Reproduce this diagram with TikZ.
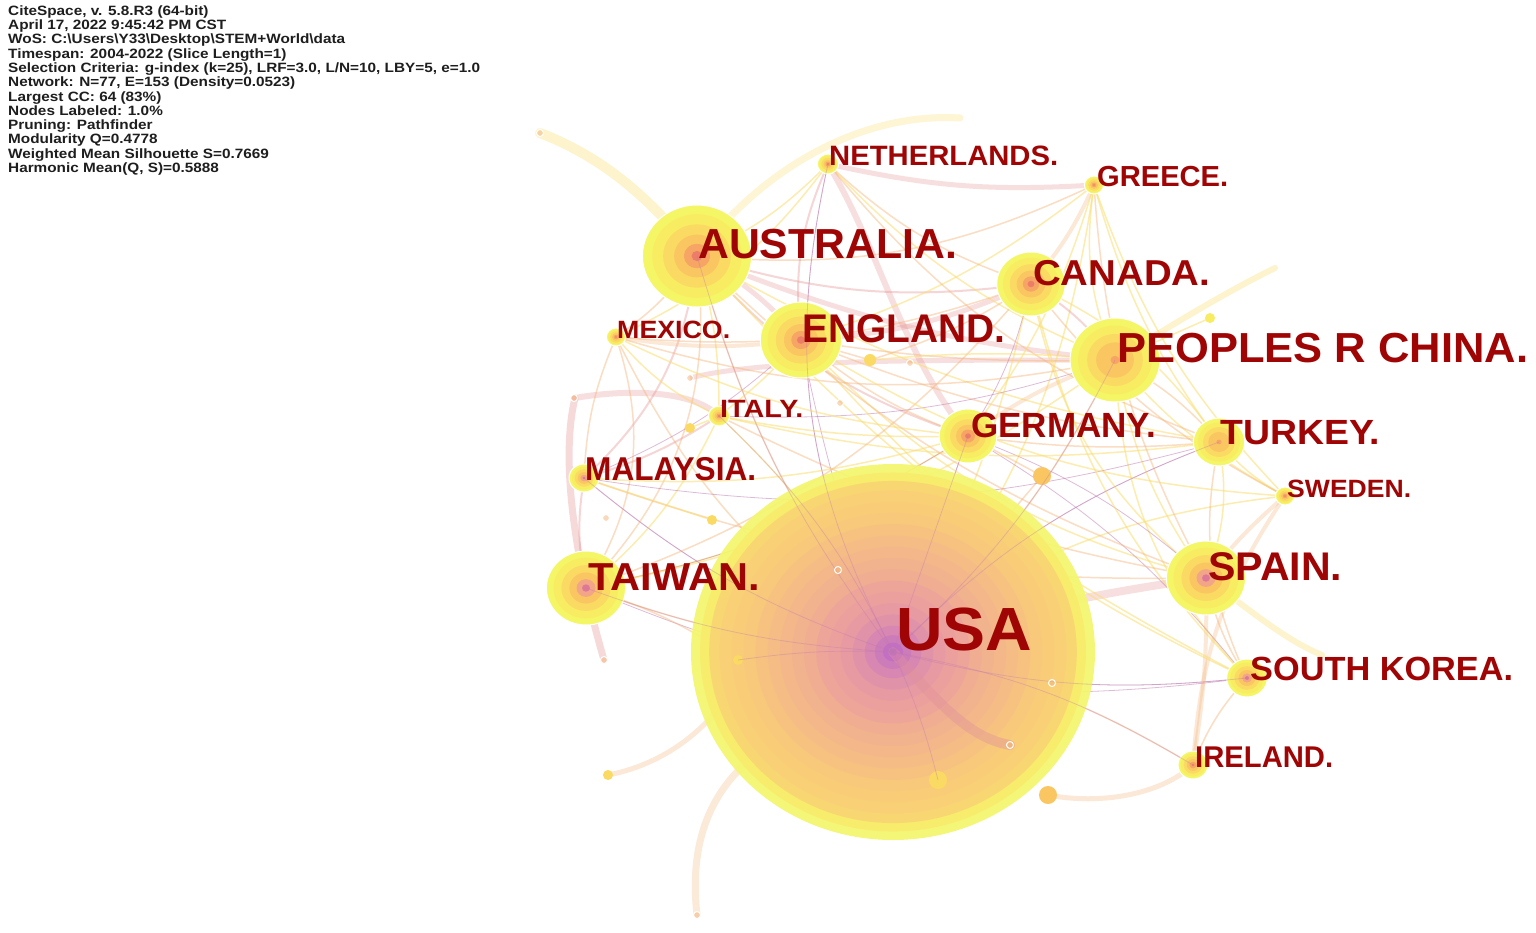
\documentclass[tikz,border=0pt]{standalone}
\usepackage{fontspec}
\setmainfont{Liberation Sans}
\definecolor{lab}{RGB}{160,5,5}
\definecolor{hdr}{RGB}{30,30,30}
\definecolor{ey}{RGB}{250,222,110}
\definecolor{eo}{RGB}{245,180,120}
\definecolor{ep}{RGB}{232,150,150}
\definecolor{em}{RGB}{190,120,175}
\definecolor{ny1}{RGB}{244,246,102}
\definecolor{ny2}{RGB}{248,236,98}
\definecolor{no1}{RGB}{250,218,98}
\definecolor{no2}{RGB}{250,198,98}
\definecolor{nr1}{RGB}{246,165,100}
\definecolor{nr2}{RGB}{236,125,105}
\definecolor{pr1}{RGB}{242,165,135}
\definecolor{pr2}{RGB}{222,120,150}
\definecolor{uy}{RGB}{244,246,110}
\definecolor{uy2}{RGB}{248,236,108}
\definecolor{uo}{RGB}{250,205,120}
\definecolor{up}{RGB}{236,160,158}
\definecolor{uv}{RGB}{180,95,210}
\tikzset{
  t1/.style={draw=ey, line width=1.5, opacity=.55},
  t2/.style={draw=eo, line width=1.5, opacity=.45},
  t3/.style={draw=ep, line width=2, opacity=.4},
  t4/.style={draw=em, line width=.8, opacity=.5},
  tk/.style={draw=eo, line width=4, opacity=.3},
  tp/.style={draw=ep, line width=5, opacity=.3},
  lblnode/.style={anchor=base west, inner sep=0, text=lab},
}
% name, x, y, r, inner colour 1, inner colour 2
\newcommand\cnd[6]{%
  \coordinate (#1) at (#2,#3);
  \fill[ny1] (#1) ellipse [x radius={1.07*#4}, y radius={#4}];
  \draw[white, line width=1] (#1) ellipse [x radius={1.07*#4}, y radius={#4}];
  \fill[ny2] (#1) ellipse [x radius={1.07*#4*.82}, y radius={#4*.82}];
  \fill[no1] (#1) ellipse [x radius={1.07*#4*.62}, y radius={#4*.62}];
  \fill[no2] (#1) ellipse [x radius={1.07*#4*.42}, y radius={#4*.42}];
  \fill[#5] (#1) ellipse [x radius={1.07*#4*.24}, y radius={#4*.24}];
  \fill[#6] (#1) ellipse [x radius={1.07*#4*.10}, y radius={#4*.10}];
}
\newcommand\dotnd[5]{%
  \coordinate (#1) at (#2,#3);
  \fill[#5] (#1) circle [radius=#4];
}
\newcommand\wdot[3]{%
  \coordinate (#1) at (#2,#3);
  \filldraw[fill=eo, fill opacity=.5, draw=white, line width=1] (#1) circle [radius=3.5];
}
\newcommand\lbl[6]{%
  \node[lblnode, font=\bfseries\fontsize{#4}{#4}\selectfont] (#1) at (#2,#3) {\resizebox{#5pt}{\height}{#6}};
}
\begin{document}
\begin{tikzpicture}[x=1pt, y=-1pt]
\useasboundingbox (0,0) rectangle (1536,932);
\fill[white] (0,0) rectangle (1536,932);

% ---------- named positions ----------
\coordinate (usa) at (893,652);
\coordinate (aus) at (697,256);
\coordinate (eng) at (801,340);
\coordinate (can) at (1031,284);
\coordinate (chn) at (1115,360);
\coordinate (ger) at (968,436);
\coordinate (tur) at (1219,442);
\coordinate (twn) at (586,588);
\coordinate (spa) at (1206,578);
\coordinate (kor) at (1247,678);
\coordinate (ire) at (1193,765);
\coordinate (swe) at (1285,496);
\coordinate (gre) at (1094,185);
\coordinate (net) at (828,164);
\coordinate (mex) at (616,337);
\coordinate (ita) at (719,416);
\coordinate (mal) at (584,478);
\coordinate (c540) at (540,133);
\coordinate (c960) at (960,118);
\coordinate (c697) at (697,915);
\coordinate (c604) at (604,660);
\coordinate (c575) at (575,398);
\coordinate (c1010) at (1010,745);
\coordinate (c1275) at (1275,268);
\coordinate (c1320) at (1322,655);
\coordinate (c770) at (770,745);
\coordinate (c725) at (725,700);
\coordinate (c690) at (690,378);
\coordinate (d1) at (870,360);
\coordinate (d2) at (1042,476);
\coordinate (d3) at (938,780);
\coordinate (d4) at (1048,795);
\coordinate (d5) at (738,660);
\coordinate (d6) at (608,775);
\coordinate (d7) at (712,520);
\coordinate (d8) at (690,428);
\coordinate (d9) at (1210,318);

% ---------- background thick arcs ----------
\draw[ey, line width=10, opacity=.35, line cap=round] (c540) .. controls (610,160) and (655,205) .. (aus);
\draw[ey, line width=7, opacity=.3, line cap=round] (aus) .. controls (760,170) and (860,112) .. (c960);
\draw[eo, line width=7, opacity=.28, line cap=round] (c697) .. controls (688,835) and (715,780) .. (c770);
\draw[eo, line width=5, opacity=.3, line cap=round] (d6) .. controls (660,765) and (700,735) .. (c725);
\draw[ep, line width=7, opacity=.35, line cap=round] (c604) .. controls (575,560) and (560,460) .. (c575);
\draw[ep, line width=6, opacity=.3, line cap=round] (c575) .. controls (620,390) and (690,388) .. (ita);
\draw[ep, line width=5, opacity=.3] (c690) .. controls (760,360) and (900,360) .. (chn);
\draw[ey, line width=6, opacity=.35, line cap=round] (chn) .. controls (1180,320) and (1230,290) .. (c1275);
\draw[ey, line width=6, opacity=.35, line cap=round] (spa) .. controls (1250,610) and (1285,640) .. (c1320);
\draw[eo, line width=5, opacity=.3] (d4) .. controls (1100,805) and (1160,795) .. (ire);
\draw[ep, line width=8, opacity=.3] (usa) .. controls (1000,610) and (1120,590) .. (spa);
\draw[ep, line width=6, opacity=.3] (net) .. controls (880,250) and (900,350) .. (ger);

% ---------- thin connectors ----------
\foreach \a/\b/\bd/\s in {
  usa/aus/10/t2, usa/eng/5/t4, usa/can/-8/t1, usa/chn/-10/t2, usa/ger/0/t4, usa/tur/12/t4,
  usa/twn/8/t2, usa/kor/-10/t4, usa/ire/10/t2, usa/swe/15/t1, usa/gre/-15/t1,
  usa/net/20/t4, usa/mex/15/t2, usa/ita/-10/t1, usa/mal/10/t4, usa/d2/0/t2,
  aus/eng/10/tp, aus/can/-12/t3, aus/chn/-8/tp, aus/net/-10/t1, aus/gre/-15/t2, aus/mex/10/t2,
  aus/ita/8/t1, aus/mal/20/t3, aus/twn/25/t2, aus/ger/-15/t3, aus/tur/-10/t1,
  eng/can/-10/tp, eng/chn/-5/t2, eng/net/15/t3, eng/gre/-10/t1, eng/ger/-10/t2, eng/ita/5/t1,
  eng/mal/10/t4, eng/spa/-15/t1, eng/tur/-8/t2, eng/mex/8/tk, eng/d1/0/t2,
  can/chn/10/t3, can/gre/-8/tk, can/net/12/t2, can/ger/10/t4, can/tur/15/t1, can/spa/-20/t1,
  chn/tur/10/t2, chn/spa/-12/t1, chn/gre/15/t1, chn/ger/-8/tk, chn/kor/-20/t1, chn/swe/-10/t1, chn/d9/0/t1,
  ger/spa/10/t4, ger/tur/-6/t2, ger/kor/10/t4, ger/twn/10/t1, ger/d2/0/t2,
  tur/spa/15/t1, tur/swe/-10/t1, tur/kor/-18/t2, spa/kor/-10/t2, spa/ire/5/tk, kor/ire/-10/t2,
  swe/spa/-5/tk, swe/ire/-15/tk,
  twn/mal/10/t3, twn/mex/-25/t2, twn/ita/-12/t1, mal/mex/10/t2, mal/ita/-8/t3, mex/ita/-12/t1,
  net/gre/-8/tp, twn/ger/-10/t4, mal/tur/-12/t4, ita/chn/-10/t4, mex/chn/-14/t2, ita/tur/-10/t1,
  twn/kor/-15/t4, mal/spa/-10/t2, mal/d7/0/t1, ita/d8/0/t1, twn/d5/8/t2,
  net/chn/-12/t1, net/tur/-15/t2, gre/tur/-10/t1, gre/spa/-12/t2, gre/ger/10/t1, can/kor/-15/t1,
  can/swe/-12/t2, eng/kor/-12/t1, aus/spa/-12/t2, aus/kor/-10/t1, mex/ger/-10/t1, mex/can/-12/t2,
  ita/ger/-6/t1, ita/spa/-8/t2, mal/ger/-10/t1, twn/chn/-12/t1, twn/can/-15/t2, d1/chn/5/t1,
  d1/can/-8/t2, gre/swe/-12/t1, eng/swe/-14/t1, mex/net/-14/t1}
  {\draw[\s] (\a) to[bend left=\bd] (\b);}

% ---------- USA (largest node) ----------
\foreach \f/\c in {1/uy, .955/uy2, .91/uo!70!uy2, .86/uo!90!uy2, .80/uo, .74/uo!88!up,
  .68/uo!76!up, .62/uo!64!up, .56/uo!52!up, .50/uo!40!up, .44/uo!28!up, .38/up!90!uo,
  .32/up, .26/up!90!uv, .20/up!78!uv, .14/up!62!uv, .09/up!45!uv, .05/uv!75!up, .02/uv}
  {\fill[\c, opacity=.93] (usa) ellipse [x radius={202*\f}, y radius={188*\f}];}

% ---------- other country nodes ----------
\cnd{aus}{697}{256}{51}{nr1}{nr2}
\cnd{eng}{801}{340}{38}{nr1}{nr2}
\cnd{can}{1031}{284}{32}{nr1}{nr2}
\cnd{chn}{1115}{360}{42}{no2}{nr1}
\cnd{ger}{968}{436}{27}{nr1}{nr2}
\cnd{tur}{1219}{442}{24}{no2}{nr1}
\cnd{twn}{586}{588}{37}{pr1}{pr2}
\cnd{spa}{1206}{578}{37}{pr1}{pr2}
\cnd{kor}{1247}{678}{19}{pr1}{pr2}
\cnd{ire}{1193}{765}{14}{nr1}{nr2}
\cnd{swe}{1285}{496}{9}{nr1}{nr2}
\cnd{gre}{1094}{185}{9}{nr1}{nr2}
\cnd{net}{828}{164}{10}{nr1}{nr2}
\cnd{mex}{616}{337}{9}{nr1}{nr2}
\cnd{ita}{719}{416}{10}{nr1}{nr2}
\cnd{mal}{584}{478}{14}{pr1}{pr2}

% ---------- small dots ----------
\dotnd{d1}{870}{360}{6}{no1}
\dotnd{d2}{1042}{476}{9}{no2}
\dotnd{d3}{938}{780}{9}{no1}
\dotnd{d4}{1048}{795}{9}{no2}
\dotnd{d5}{738}{660}{5}{no1}
\dotnd{d6}{608}{775}{5}{no1}
\dotnd{d7}{712}{520}{5}{no1}
\dotnd{d8}{690}{428}{5}{no1}
\dotnd{d9}{1210}{318}{5}{ny2}

% ---------- overlay connectors across USA ----------
\draw[ep!80!em, line width=10, opacity=.4, line cap=round] (usa) .. controls (940,705) and (970,738) .. (c1010);
\foreach \b/\bd in {aus/10, net/20, ger/0, chn/-10, tur/12, twn/8, kor/-10, ire/10, mal/10, d3/5, d5/-5, ita/-10}
  {\draw[em, line width=.8, opacity=.35] (usa) to[bend left=\bd] (\b);}

% ---------- tiny ring dots ----------
\wdot{w1}{838}{570}
\wdot{w2}{1052}{683}
\wdot{w3}{910}{363}
\wdot{w4}{690}{378}
\wdot{w5}{574}{398}
\wdot{w6}{606}{518}
\wdot{w7}{840}{403}
\wdot{w8}{1010}{745}
\wdot{w9}{697}{915}
\wdot{w10}{540}{133}
\wdot{w11}{604}{660}

% ---------- labels ----------
\lbl{lusa}{896}{650}{61}{136}{USA}
\lbl{laus}{698}{258}{42}{259}{AUSTRALIA.}
\lbl{leng}{802}{342}{40}{203}{ENGLAND.}
\lbl{lcan}{1033}{285}{36}{177}{CANADA.}
\lbl{lchn}{1117}{362}{42}{411}{PEOPLES R CHINA.}
\lbl{lger}{971}{437}{35}{185}{GERMANY.}
\lbl{ltur}{1220}{444}{35}{160}{TURKEY.}
\lbl{ltwn}{588}{590}{39}{172}{TAIWAN.}
\lbl{lspa}{1208}{580}{40}{134}{SPAIN.}
\lbl{lkor}{1250}{680}{33.5}{263}{SOUTH KOREA.}
\lbl{lire}{1195}{767}{30}{138}{IRELAND.}
\lbl{lswe}{1287}{497}{25}{124}{SWEDEN.}
\lbl{lgre}{1097}{186}{29}{131}{GREECE.}
\lbl{lnet}{829}{165}{28}{229}{NETHERLANDS.}
\lbl{lmex}{617}{338}{25}{113}{MEXICO.}
\lbl{lita}{720}{417}{25}{83}{ITALY.}
\lbl{lmal}{585}{480}{33}{171}{MALAYSIA.}

% ---------- header ----------
\node[anchor=north west, align=left, inner sep=0, text=hdr,
      font=\bfseries\fontsize{13.5}{14.3}\selectfont] (hdr) at (8,5) {\scalebox{1.135}[1]{\begin{tabular}{@{}l@{}}
CiteSpace, v. 5.8.R3 (64-bit)\\
April 17, 2022 9:45:42 PM CST\\
WoS: C:{\textbackslash}Users{\textbackslash}Y33{\textbackslash}Desktop{\textbackslash}STEM+World{\textbackslash}data\\
Timespan: 2004-2022 (Slice Length=1)\\
Selection Criteria: g-index (k=25), LRF=3.0, L/N=10, LBY=5, e=1.0\\
Network: N=77, E=153 (Density=0.0523)\\
Largest CC: 64 (83\%)\\
Nodes Labeled: 1.0\%\\
Pruning: Pathfinder\\
Modularity Q=0.4778\\
Weighted Mean Silhouette S=0.7669\\
Harmonic Mean(Q, S)=0.5888
\end{tabular}}};
\end{tikzpicture}
\end{document}
